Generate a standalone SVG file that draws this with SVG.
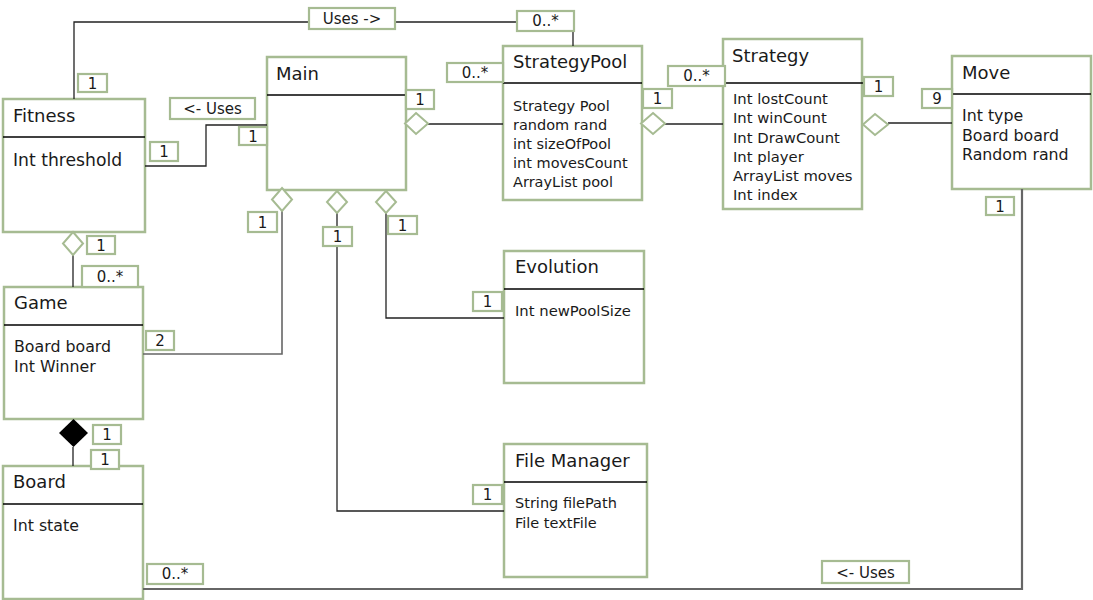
<svg xmlns="http://www.w3.org/2000/svg" width="1093" height="600" viewBox="0 0 1093 600">
<style>
.box{fill:#fff;stroke:#a6bb92;stroke-width:2.5}
.div{stroke:#000;stroke-width:1.3}
.t{font-family:"DejaVu Sans",sans-serif;font-size:18px;fill:#1a1a1a}
.a{font-family:"DejaVu Sans",sans-serif;font-size:14.5px;fill:#1a1a1a}
.a2{font-family:"DejaVu Sans",sans-serif;font-size:15.8px;fill:#1a1a1a}
.a3{font-family:"DejaVu Sans",sans-serif;font-size:14.8px;fill:#1a1a1a}
.ln{fill:none;stroke:#222;stroke-width:1.3}
.lg{fill:none;stroke:#666;stroke-width:1.6}
.lb{fill:#fff;stroke:#a6bb92;stroke-width:2.2}
.lt{font-family:"DejaVu Sans",sans-serif;font-size:15px;fill:#1a1a1a;text-anchor:middle}
.dm{fill:#fff;stroke:#a6bb92;stroke-width:2}
</style>
<rect width="1093" height="600" fill="#fff"/>

<g id="fitness">
<rect class="box" x="3" y="99" width="142" height="133"/>
<line class="div" x1="3" y1="137" x2="145" y2="137"/>
<text class="t" x="13" y="122">Fitness</text>
<text class="a" x="13" y="166" style="font-size:17.2px">Int threshold</text>
</g>
<g id="main">
<rect class="box" x="267" y="57" width="139" height="133"/>
<line class="div" x1="267" y1="95" x2="406" y2="95"/>
<text class="t" x="276" y="80">Main</text>
</g>
<g id="strategypool">
<rect class="box" x="503" y="46" width="139" height="154"/>
<line class="div" x1="503" y1="83" x2="642" y2="83"/>
<text class="t" x="513" y="68">StrategyPool</text>
<text class="a" x="513" y="111">Strategy Pool</text>
<text class="a" x="513" y="130">random rand</text>
<text class="a" x="513" y="149">int sizeOfPool</text>
<text class="a" x="513" y="168">int movesCount</text>
<text class="a" x="513" y="187">ArrayList pool</text>
</g>
<g id="strategy">
<rect class="box" x="723" y="39" width="139" height="170"/>
<line class="div" x1="723" y1="83" x2="865" y2="83"/>
<text class="t" x="732" y="62">Strategy</text>
<text class="a3" x="733" y="104">Int lostCount</text>
<text class="a3" x="733" y="123">Int winCount</text>
<text class="a3" x="733" y="143">Int DrawCount</text>
<text class="a3" x="733" y="162">Int player</text>
<text class="a3" x="733" y="181">ArrayList moves</text>
<text class="a3" x="733" y="200">Int index</text>
</g>
<g id="move">
<rect class="box" x="952" y="56" width="139" height="133"/>
<line class="div" x1="952" y1="94" x2="1091" y2="94"/>
<text class="t" x="962" y="79">Move</text>
<text class="a2" x="962" y="121">Int type</text>
<text class="a2" x="962" y="141">Board board</text>
<text class="a2" x="962" y="160">Random rand</text>
</g>
<g id="game">
<rect class="box" x="4" y="287" width="139" height="132"/>
<line class="div" x1="4" y1="325" x2="143" y2="325"/>
<text class="t" x="14" y="309">Game</text>
<text class="a2" x="14" y="352">Board board</text>
<text class="a2" x="14" y="372">Int Winner</text>
</g>
<g id="board">
<rect class="box" x="3" y="466" width="140" height="133"/>
<line class="div" x1="3" y1="504" x2="143" y2="504"/>
<text class="t" x="13" y="488">Board</text>
<text class="a2" x="13" y="531">Int state</text>
</g>
<g id="evolution">
<rect class="box" x="504" y="251" width="140" height="132"/>
<line class="div" x1="504" y1="289" x2="644" y2="289"/>
<text class="t" x="515" y="273">Evolution</text>
<text class="a3" x="515" y="316">Int newPoolSize</text>
</g>
<g id="filemanager">
<rect class="box" x="504" y="444" width="143" height="133"/>
<line class="div" x1="504" y1="482" x2="647" y2="482"/>
<text class="t" x="515" y="467">File  Manager</text>
<text class="a" x="515" y="508">String filePath</text>
<text class="a" x="515" y="528">File textFile</text>
</g>

<g id="connectors">
<polyline class="ln" points="74,99 74,22 573,22 573,46"/>
<polyline class="ln" points="145,166 206,166 206,125 267,125"/>
<line class="ln" x1="428" y1="124" x2="503" y2="124"/>
<line class="ln" x1="665" y1="124" x2="723" y2="124"/>
<line class="ln" x1="888" y1="123" x2="952" y2="123"/>
<polyline class="lg" points="143,354 282,354 282,211"/>
<polyline class="ln" points="337,213 337,511 504,511"/>
<polyline class="ln" points="386,213 386,318 504,318"/>
<line class="ln" x1="73" y1="255" x2="73" y2="287"/>
<line class="ln" x1="73" y1="447" x2="73" y2="466"/>
<polyline class="lg" points="143,589 1022,589 1022,189" style="stroke-width:2.2"/>

<polygon class="dm" points="416,113 428,123.5 416,134 405,123.5"/>
<polygon class="dm" points="653,113 665,123.5 653,134 641,123.5"/>
<polygon class="dm" points="875,114 888,124.5 875,135 863,124.5"/>
<polygon class="dm" points="282,188 292,199.5 282,211 272,199.5"/>
<polygon class="dm" points="337,191 347,202 337,213 327,202"/>
<polygon class="dm" points="386,191 396,202 386,213 376,202"/>
<polygon class="dm" points="73,232 83,243.5 73,255 63,243.5"/>
<polygon points="73.5,419 88,433 73.5,447 59,433" fill="#000"/>

<rect class="lb" x="309" y="8" width="86" height="21"/><text class="lt" x="352" y="24">Uses -&gt;</text>
<rect class="lb" x="517" y="11" width="57" height="20"/><text class="lt" x="545.5" y="26">0..*</text>
<rect class="lb" x="78" y="74" width="29" height="18"/><text class="lt" x="92.5" y="89">1</text>
<rect class="lb" x="170" y="98" width="85" height="21"/><text class="lt" x="212.5" y="114">&lt;- Uses</text>
<rect class="lb" x="150" y="142" width="28" height="19"/><text class="lt" x="164" y="157">1</text>
<rect class="lb" x="239" y="127" width="28" height="18"/><text class="lt" x="253" y="142">1</text>
<rect class="lb" x="406" y="90" width="28" height="19"/><text class="lt" x="420" y="105">1</text>
<rect class="lb" x="447" y="63" width="56" height="19"/><text class="lt" x="475" y="78">0..*</text>
<rect class="lb" x="643" y="89" width="29" height="19"/><text class="lt" x="657.5" y="104">1</text>
<rect class="lb" x="668" y="66" width="57" height="20"/><text class="lt" x="696.5" y="81">0..*</text>
<rect class="lb" x="864" y="77" width="29" height="19"/><text class="lt" x="878.5" y="92">1</text>
<rect class="lb" x="922" y="89" width="30" height="19"/><text class="lt" x="937" y="104">9</text>
<rect class="lb" x="986" y="197" width="28" height="18"/><text class="lt" x="1000" y="212">1</text>
<rect class="lb" x="248" y="212" width="29" height="20"/><text class="lt" x="262.5" y="228">1</text>
<rect class="lb" x="323" y="227" width="29" height="19"/><text class="lt" x="337.5" y="242">1</text>
<rect class="lb" x="388" y="216" width="29" height="18"/><text class="lt" x="402.5" y="231">1</text>
<rect class="lb" x="87" y="236" width="28" height="18"/><text class="lt" x="101" y="251">1</text>
<rect class="lb" x="82" y="266" width="56" height="21"/><text class="lt" x="110" y="282">0..*</text>
<rect class="lb" x="146" y="331" width="28" height="19"/><text class="lt" x="160" y="346">2</text>
<rect class="lb" x="93" y="425" width="28" height="19"/><text class="lt" x="107" y="440">1</text>
<rect class="lb" x="91" y="450" width="28" height="19"/><text class="lt" x="105" y="465">1</text>
<rect class="lb" x="147" y="564" width="56" height="20"/><text class="lt" x="175" y="579">0..*</text>
<rect class="lb" x="473" y="292" width="29" height="19"/><text class="lt" x="487.5" y="307">1</text>
<rect class="lb" x="473" y="485" width="29" height="19"/><text class="lt" x="487.5" y="500">1</text>
<rect class="lb" x="822" y="561" width="87" height="22"/><text class="lt" x="865.5" y="578">&lt;- Uses</text>
</g>
</svg>
